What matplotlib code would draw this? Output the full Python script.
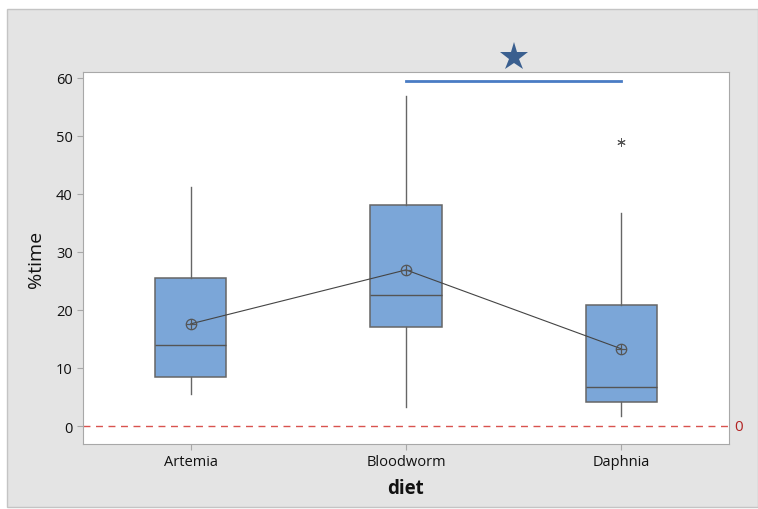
import matplotlib
matplotlib.use('Agg')
import matplotlib.pyplot as plt
from matplotlib.patches import Rectangle

plt.rcParams['font.family'] = ['Open Sans', 'DejaVu Sans']

# data
diets = ['Artemia', 'Bloodworm', 'Daphnia']
whislo = [5.5, 3.3, 1.7]
q1 = [8.4, 17.1, 4.1]
med = [14.0, 22.6, 6.7]
q3 = [25.5, 38.1, 20.9]
whishi = [41.2, 56.9, 36.7]
means = [17.6, 26.9, 13.3]
outliers = [[], [], [49.0]]
sig_pair = (2, 3)
sig_y = 59.5

stats = []
for i, d in enumerate(diets):
    stats.append(dict(label=d, whislo=whislo[i], q1=q1[i], med=med[i],
                      q3=q3[i], whishi=whishi[i], fliers=outliers[i]))

fig = plt.figure(figsize=(7.58, 5.10), dpi=100)
fig.patch.set_facecolor('white')
fig.patches.append(Rectangle((7/758, 2/510), 1 - 7/758, 1 - 12/510,
                             transform=fig.transFigure, facecolor='#e4e4e4',
                             edgecolor='#c4c4c4', linewidth=1, zorder=-1))

ax = fig.add_axes([83/758, 1 - 445/510, 646/758, 372/510])
pos = range(1, len(diets) + 1)
edge = '#666666'
ax.bxp(stats, positions=pos, widths=0.33, patch_artist=True, showcaps=False,
       boxprops=dict(facecolor='#7ba6d8', edgecolor=edge, linewidth=1.1),
       medianprops=dict(color='#555555', linewidth=1.0),
       whiskerprops=dict(color=edge, linewidth=1.0),
       flierprops=dict(marker=(6, 2, 0), markersize=6, markeredgecolor='#555555',
                       markeredgewidth=0.7, linestyle='none'))

# mean connect line and circled-plus markers
ax.plot(list(pos), means, color='#444444', linewidth=0.8, zorder=4)
ax.plot(list(pos), means, linestyle='none', marker='o', markersize=7.5,
        markerfacecolor='none', markeredgecolor='#555555', markeredgewidth=0.9, zorder=5)
ax.plot(list(pos), means, linestyle='none', marker='+', markersize=7.5,
        markeredgecolor='#555555', markeredgewidth=0.9, zorder=5)

# reference line at 0
ax.axhline(0, color='#d9534f', linestyle=(0, (5, 4)), linewidth=1.0, zorder=1)
ax.text(1.008, 0, '0', transform=ax.get_yaxis_transform(), color='#b22222',
        fontsize=11, va='center', ha='left')

# significance bar and star
ax.plot(sig_pair, [sig_y, sig_y], color='#4a7cc4', linewidth=2, clip_on=False)
ax.plot([sum(sig_pair) / 2], [63.6], marker='*', markersize=21, color='#3a5f8f',
        clip_on=False, markeredgewidth=0)

ax.set_xlim(0.5, 3.5)
ax.set_ylim(-3.1, 61.0)
ax.set_yticks([0, 10, 20, 30, 40, 50, 60])
ax.set_xticks(list(pos))
ax.set_xticklabels(diets)
for s in ax.spines.values():
    s.set_color('#a8a8a8')
ax.tick_params(axis='both', colors='#a8a8a8', labelcolor='#111111',
               labelsize=10.5, length=4, direction='out')
ax.set_xlabel('diet', fontsize=13.5, fontweight='bold', labelpad=6, color='#111111')
ax.set_ylabel('%time', fontsize=14, labelpad=8, color='#111111')

fig.savefig('out.png', dpi=100)
